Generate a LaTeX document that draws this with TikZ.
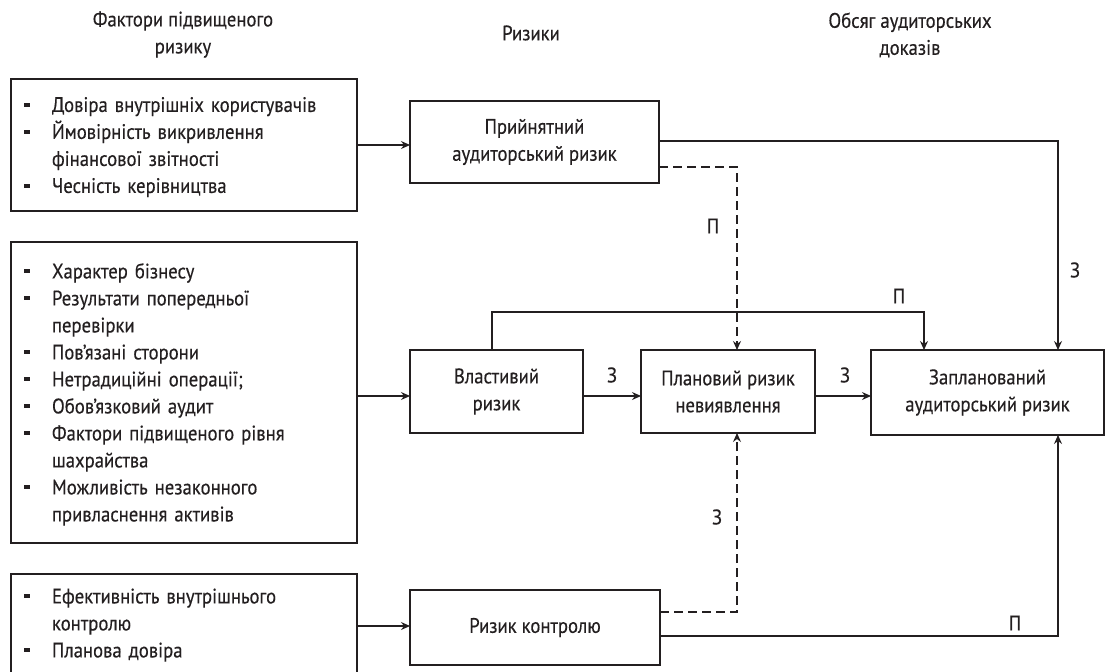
\documentclass[tikz,border=0pt]{standalone}
\usepackage{fontspec}
\setmainfont{PT Sans}[FakeStretch=0.89, FakeBold=0.35]
\usetikzlibrary{arrows.meta,calc}
\definecolor{ink}{RGB}{35,31,32}
% one entry of a factor list: a small square mark and a hanging indent
\newcommand\factoritem[1]{\par\hangindent=28pt\hangafter=1\noindent
  \makebox[28pt][l]{\rule[5pt]{5.5pt}{4pt}}#1\par}

\begin{document}
\begin{tikzpicture}[x=1pt,y=-1pt,
  font=\fontsize{21}{27}\selectfont, text=ink,
  box/.style={draw=ink, line width=2.4pt, inner sep=0pt, outer sep=0pt, align=center},
  listbox/.style={box, align=left, inner xsep=13pt, text width=320pt, minimum width=346pt},
  link/.style={draw=ink, line width=1.1pt, -{Stealth[length=9pt,width=8pt,inset=3pt]}},
  dlink/.style={link, dash pattern=on 9pt off 5pt},
  lbl/.style={inner sep=0pt},
  head/.style={align=center, inner sep=0pt}
]
\useasboundingbox (0,0) rectangle (1106,672);
\clip (0,0) rectangle (1106,672);

% column headings
\node[head] (h1) at (183,34.5) {Фактори підвищеного\\ризику};
\node[head] (h2) at (531,33) {Ризики};
\node[head] (h3) at (910,35) {Обсяг аудиторських\\доказів};

% factor lists
\node[listbox, minimum height=132pt] (b1) at (184,145) {%
  \factoritem{Довіра внутрішніх користувачів}
  \factoritem{Ймовірність викривлення\newline фінансової звітності}
  \factoritem{Чесність керівництва}\kern8pt};
\node[listbox, minimum height=301pt] (b2) at (184,392.5) {%
  \factoritem{Характер бізнесу}
  \factoritem{Результати попередньої\newline перевірки}
  \factoritem{Пов’язані сторони}
  \factoritem{Нетрадиційні операції;}
  \factoritem{Обов’язковий аудит}
  \factoritem{Фактори підвищеного рівня\newline шахрайства}
  \factoritem{Можливість незаконного\newline привласнення активів}\kern8pt};
\node[listbox, minimum height=102pt] (b3) at (184,625) {%
  \factoritem{Ефективність внутрішнього\newline контролю}
  \factoritem{Планова довіра}\kern12pt};

% risk boxes
\node[box, minimum width=249pt, minimum height=82pt] (prin) at (534.5,142)
  {Прийнятний\\аудиторський ризик};
\node[box, minimum width=173pt, minimum height=83pt] (vlast) at (496.5,391.5)
  {Властивий\\ризик};
\node[box, minimum width=174pt, minimum height=83pt] (plan) at (728,391.5)
  {Плановий ризик\\невиявлення};
\node[box, minimum width=233pt, minimum height=85pt] (zapl) at (987.5,392.5)
  {Запланований\\аудиторський ризик};
\node[box, minimum width=250pt, minimum height=75pt] (kontr) at (535,627.5)
  {Ризик контролю};

% routing columns and levels
\coordinate (xd) at (737,0);
\coordinate (xr) at (1058,0);
\coordinate (xv) at (492,0);
\coordinate (xm) at (924,0);
\coordinate (yt) at (0,312);

% factors to risks
\draw[link] (b1.east) -- (b1.east -| prin.west);
\draw[link] (b2.east |- 0,396) -- (vlast.west |- 0,396);
\draw[link] (b3.east |- 0,626) -- (kontr.west |- 0,626);

% risk relations
\draw[link] (prin.east |- 0,141) -| (xr |- zapl.north);
\draw[dlink] (prin.east |- 0,167) -| (xd |- plan.north);
\draw[link] (xv |- vlast.north) -- (xv |- yt) -| (xm |- zapl.north);
\draw[link] (vlast.east |- 0,396) -- (plan.west |- 0,396);
\draw[link] (plan.east |- 0,396) -- (zapl.west |- 0,396);
\draw[dlink] (kontr.east |- 0,612) -| (xd |- plan.south);
\draw[link] (kontr.east |- 0,636) -| (xr |- zapl.south);

% relation labels
\node[lbl] (l1) at (713,226) {П};
\node[lbl] (l2) at (1075,270) {З};
\node[lbl] (l3) at (899,296) {П};
\node[lbl] (l4) at (612,375) {З};
\node[lbl] (l5) at (845,375) {З};
\node[lbl] (l6) at (717,517) {З};
\node[lbl] (l7) at (1015,623) {П};
\end{tikzpicture}
\end{document}
